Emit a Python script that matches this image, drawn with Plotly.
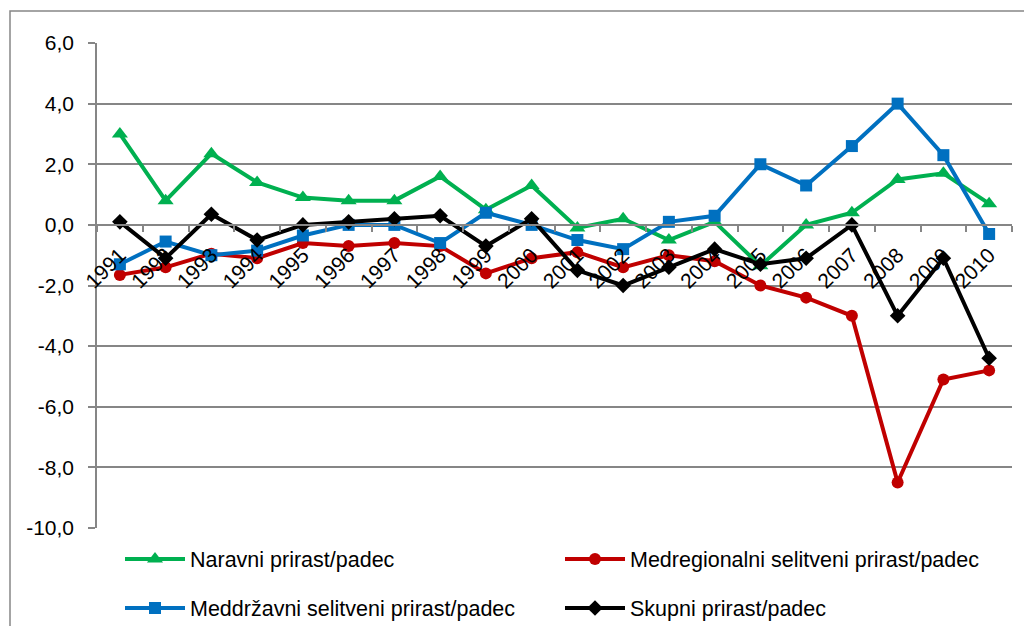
import plotly.graph_objects as go

years = [str(y) for y in range(1991, 2011)]
naravni = [3.0, 0.8, 2.35, 1.4, 0.9, 0.8, 0.8, 1.6, 0.5, 1.3, -0.1, 0.2, -0.5, 0.1, -1.35, 0.0, 0.4, 1.5, 1.7, 0.7]
medregionalni = [-1.65, -1.4, -0.95, -1.1, -0.6, -0.7, -0.6, -0.7, -1.6, -1.1, -0.9, -1.4, -1.0, -1.2, -2.0, -2.4, -3.0, -8.5, -5.1, -4.8]
meddrzavni = [-1.3, -0.55, -1.0, -0.85, -0.35, 0.0, 0.0, -0.6, 0.4, 0.0, -0.5, -0.8, 0.1, 0.3, 2.0, 1.3, 2.6, 4.0, 2.3, -0.3]
skupni = [0.1, -1.1, 0.35, -0.5, 0.0, 0.1, 0.2, 0.3, -0.7, 0.2, -1.5, -2.0, -1.4, -0.8, -1.3, -1.1, 0.0, -3.0, -1.1, -4.4]

ytick_values = [-10, -8, -6, -4, -2, 0, 2, 4, 6]
ytick_labels = ["-10,0", "-8,0", "-6,0", "-4,0", "-2,0", "0,0", "2,0", "4,0", "6,0"]

names = ["Naravni prirast/padec", "Medregionalni selitveni prirast/padec",
         "Meddržavni selitveni prirast/padec", "Skupni prirast/padec"]
colors = ["#00B050", "#C00000", "#0070C0", "#000000"]
symbols = ["triangle-up", "circle", "square", "diamond"]
sizes = [14, 12, 12, 12]
series = [naravni, medregionalni, meddrzavni, skupni]
legends = ["legend", "legend2", "legend3", "legend4"]

# the page places the figure 8px right/down (body margin)
OFF = 8
W, H = 1032 - OFF, 626 - OFF
L, R, T, B = 97 - OFF, 20, 43 - OFF, 626 - 528
PW, PH = W - L - R, H - T - B

def px_x(p):  # page pixel -> paper x
    return (p - OFF - L) / PW

def px_y(p):  # page pixel -> paper y
    return (H - B - (p - OFF)) / PH

FONT = "Liberation Sans, Arial, sans-serif"
GRAY = "#868686"

fig = go.Figure()
for name, vals, c, s, sz, lg in zip(names, series, colors, symbols, sizes, legends):
    fig.add_trace(go.Scatter(
        x=years, y=vals, name=name, mode="lines+markers",
        line=dict(color=c, width=4),
        marker=dict(symbol=s, size=sz, color=c),
        legend=lg, showlegend=True,
    ))

leg_common = dict(orientation="h", font=dict(family=FONT, size=21.5, color="#000000"),
                  bgcolor="rgba(0,0,0,0)", itemwidth=60, xanchor="left", yanchor="middle")

fig.update_layout(
    template="none",
    width=W, height=H,
    margin=dict(l=L, r=R, t=T, b=B, autoexpand=False),
    paper_bgcolor="white", plot_bgcolor="white",
    showlegend=True,
    font=dict(family=FONT, size=21, color="#000000"),
    legend=dict(x=px_x(120), y=px_y(559), **leg_common),
    legend2=dict(x=px_x(560), y=px_y(559), **leg_common),
    legend3=dict(x=px_x(120), y=px_y(608), **leg_common),
    legend4=dict(x=px_x(560), y=px_y(608), **leg_common),
    xaxis=dict(
        type="category", anchor="free", position=10 / 16,
        range=[-0.5, len(years) - 0.5],
        showline=True, linecolor=GRAY, linewidth=1.5,
        ticks="outside", tickson="boundaries", ticklen=6, tickcolor=GRAY, tickwidth=1.5,
        tickangle=-45, showgrid=False, automargin=False,
        ticklabelstandoff=9,
        tickfont=dict(family=FONT, size=21, color="#000000"),
    ),
    yaxis=dict(
        range=[-10, 6], tickvals=ytick_values, ticktext=ytick_labels,
        showline=True, linecolor=GRAY, linewidth=1.5,
        ticks="outside", ticklen=7, tickcolor=GRAY, tickwidth=1.5,
        showgrid=True, gridcolor=GRAY, gridwidth=1.5, zeroline=False,
        ticklabelstandoff=10, automargin=False,
        tickfont=dict(family=FONT, size=21, color="#000000"),
    ),
    shapes=[dict(type="rect", xref="paper", yref="paper",
                 x0=px_x(10), x1=px_x(1100), y0=px_y(700), y1=px_y(11),
                 line=dict(color=GRAY, width=1.5), fillcolor="rgba(0,0,0,0)", layer="below")],
)

fig.write_html("out.html")
